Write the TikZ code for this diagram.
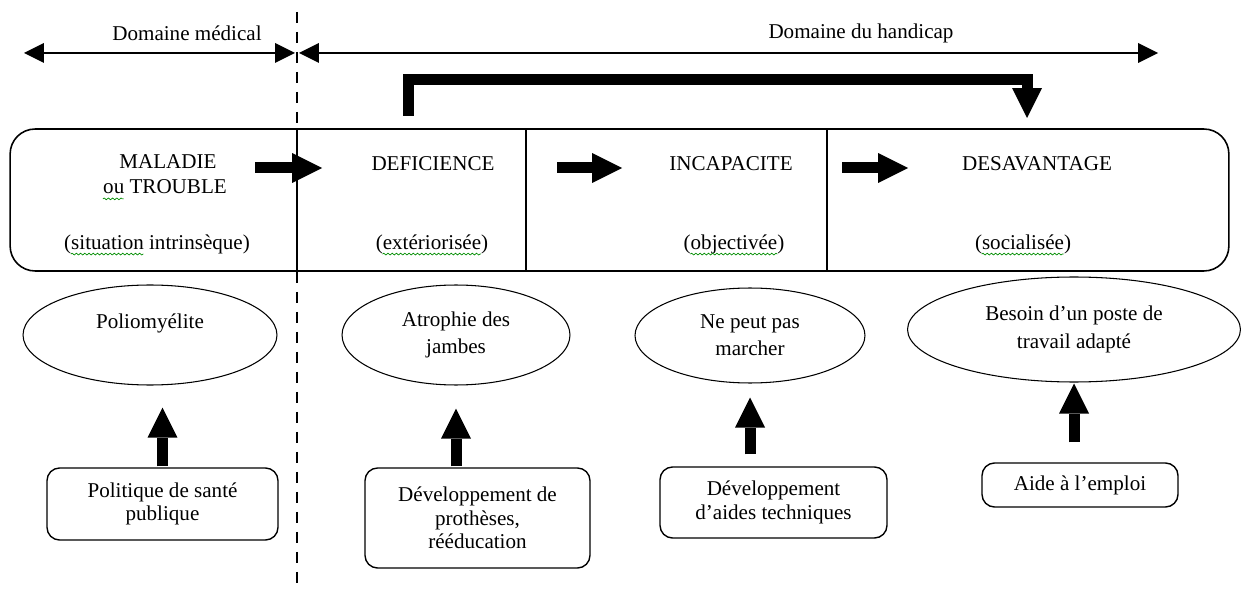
\documentclass[tikz,border=0pt]{standalone}
\usepackage{fontspec}
\setmainfont{Liberation Serif}
\usepackage{tikz}
\usetikzlibrary{positioning}
\usetikzlibrary{shapes,arrows.meta,decorations.pathmorphing}
\tikzstyle{cellt} = [inner sep=0pt]
\tikzstyle{panel} = [rectangle, draw, line width=0.9pt, rounded corners=0.5cm,
minimum width=24.38cm, minimum height=2.84cm, inner sep=0pt]
\tikzstyle{bubble} = [ellipse, draw, line width=0.6pt, align=center, inner sep=0pt,
font=\fontsize{12}{15.5}\selectfont]
\tikzstyle{block} = [rectangle, draw, line width=0.8pt, rounded corners=0.25cm,
align=center, inner sep=0pt, font=\fontsize{12}{13.5}\selectfont]
\tikzstyle{fat} = [draw, line width=0.22cm, -{Triangle[width=0.6cm,length=0.6cm,line width=0pt]}]
\tikzstyle{line} = [draw, line width=0.8pt,
{Triangle[width=0.4cm,length=0.4cm,line width=0pt]}-{Triangle[width=0.4cm,length=0.4cm,line width=0pt]}]
\tikzstyle{border} = [draw, line width=1.1pt, dash pattern=on 0.22cm off 0.18cm]
\tikzstyle{spell} = [draw=green!55!black, line width=0.4pt, decorate,
decoration={snake, amplitude=0.5pt, segment length=2.4pt}]

\begin{document}
\begin{tikzpicture}[x=0.02cm, y=-0.02cm, font=\fontsize{12}{14}\selectfont]
\useasboundingbox (0,0) rectangle (1241,591);
    % nodes
\node (med) at (187,33) {Domaine médical};
\node (hand) at (861,33) {Domaine du handicap};
\coordinate (medg) at (24,53);
\coordinate (medd) at (295,53);
\coordinate (handg) at (299,53);
\coordinate (handd) at (1158,53);

\node [panel] (cadre) at (619.5,200) {};
\node [cellt] (mal) at (168,162) {MALADIE};
\node [cellt] (trb) at (165,187) {ou TROUBLE};
\node [cellt] (sit) at (157,244) {(situation intrinsèque)};
\node [cellt] (def) at (433,164) {DEFICIENCE};
\node [cellt] (ext) at (432,244) {(extériorisée)};
\node [cellt] (inc) at (731,164) {INCAPACITE};
\node [cellt] (obj) at (734,244) {(objectivée)};
\node [cellt] (des) at (1037,164) {DESAVANTAGE};
\node [cellt] (soc) at (1023,244) {(socialisée)};

\node [bubble, minimum width=5.08cm, minimum height=2cm] (polio) at (150,335) {Poliomyélite\\\mbox{}};
\node [bubble, minimum width=4.56cm, minimum height=2cm] (atro) at (456,335) {Atrophie des\\jambes};
\node [bubble, minimum width=4.6cm, minimum height=1.9cm] (marche) at (750,335.5) {Ne peut pas\\marcher};
\node [bubble, minimum width=6.66cm, minimum height=2.1cm] (poste) at (1074,329.5) {Besoin d’un poste de\\travail adapté};

\node [block, minimum width=4.62cm, minimum height=1.44cm] (sante) at (162.5,504) {Politique de santé\\publique};
\node [block, minimum width=4.5cm, minimum height=2cm] (prot) at (477.5,518) {Développement de\\prothèses,\\rééducation};
\node [block, minimum width=4.54cm, minimum height=1.42cm] (tech) at (773.5,502.5) {Développement\\d’aides techniques};
\node [block, minimum width=3.92cm, minimum height=0.88cm] (emploi) at (1080,485) {Aide à l’emploi};

\coordinate (f1a) at (255,168);
\coordinate (f1b) at (322,168);
\coordinate (f2a) at (557,168);
\coordinate (f2b) at (622,168);
\coordinate (f3a) at (842,168);
\coordinate (f3b) at (908,168);
\coordinate (c0) at (408,116);
\coordinate (c1) at (700,80);
\coordinate (c2) at (1027,118);

%edges
\path [line] (medg) -- (medd);
\path [line] (handg) -- (handd);
\draw [border] (297,12) -- (297,591);
\draw [line width=0.8pt] (297,129) -- (297,271);
\draw [line width=0.8pt] (526,129) -- (526,271);
\draw [line width=0.8pt] (827,129) -- (827,271);

\draw [fat] (c0) |- (c1) -| (c2);
\draw [fat] (f1a) -- (f1b);
\draw [fat] (f2a) -- (f2b);
\draw [fat] (f3a) -- (f3b);

\draw [fat, shorten <=0.02cm, shorten >=0.44cm] (sante.north) -- (sante.north |- polio.south);
\draw [fat, shorten <=0.02cm, shorten >=0.46cm] (atro.south |- prot.north) -- (atro.south);
\draw [fat, shorten <=0.24cm, shorten >=0.28cm] (marche.south |- tech.north) -- (marche.south);
\draw [fat, shorten <=0.4cm, shorten >=0.02cm] (poste.south |- emploi.north) -- (poste.south);

% soulignements
\draw [spell] ([yshift=-0.1cm]trb.base west) -- ++(0.42cm,0);
\draw [spell] ([xshift=0.14cm,yshift=-0.1cm]sit.base west) -- ++(1.45cm,0);
\draw [spell] ([xshift=0.14cm,yshift=-0.1cm]ext.base west) -- ++(1.97cm,0);
\draw [spell] ([xshift=0.14cm,yshift=-0.1cm]obj.base west) -- ++(1.74cm,0);
\draw [spell] ([xshift=0.14cm,yshift=-0.1cm]soc.base west) -- ++(1.64cm,0);
\end{tikzpicture}
\end{document}
